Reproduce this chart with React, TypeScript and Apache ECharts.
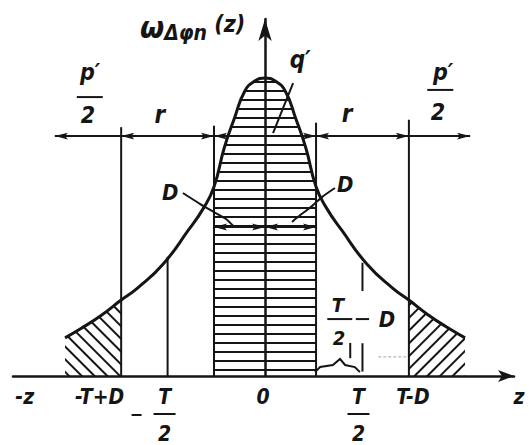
import React, { useEffect, useRef } from "react";
import * as echarts from "echarts";

// Density curve ω(z); z in units of D, height normalised to the peak.
const curveZ = [-3.92, -3.6, -3.2, -2.82, -2.5, -2.0, -1.5, -1.2, -1.0, -0.8, -0.6, -0.4, -0.2, 0, 0.2, 0.4, 0.6, 0.8, 1.0, 1.2, 1.5, 2.0, 2.5, 2.82, 3.2, 3.6, 3.92];
const curveH = [0.128, 0.16, 0.205, 0.255, 0.295, 0.375, 0.49, 0.565, 0.635, 0.765, 0.865, 0.955, 0.99, 1.0, 0.99, 0.955, 0.865, 0.765, 0.635, 0.565, 0.49, 0.375, 0.295, 0.255, 0.205, 0.16, 0.128];

const D = 1;
const T = 3.82;

// Labels under the z axis
const tickValues = [-T + D, -T / 2, 0, T / 2, T - D];
const tickLabels = ["-T+D", "-T/2", "0", "T/2", "T-D"];

// Vertical construction lines: position, bottom, top
const guideZ = [-T + D, -T / 2, -D, D, T / 2, T / 2, T - D];
const guideLow = [0, 0, 0, 0, 0.285, 0.015, 0];
const guideHigh = [0.835, 0.4, 0.84, 0.85, 0.38, 0.11, 0.86];

// Dimension line p'/2 | r | q' | r | p'/2
const spanLevel = 0.805;
const spanFrom = [-T + D, -T + D, -D, D, T - D];
const spanTo = [-4.12, -D, D, T - D, 4.02];
const spanBoth = [false, true, true, true, false];

// Inner D dimensions
const dLevel = 0.5;
const dFrom = [-D, 0];
const dTo = [0, D];

const pts = curveZ.map((z, i) => [z, curveH[i]]);
const eps = 1e-6;
const centerPts = pts.filter((p) => Math.abs(p[0]) <= D + eps);
const leftTail = pts.filter((p) => p[0] <= -T + D + eps);
const rightTail = pts.filter((p) => p[0] >= T - D - eps);

const INK = "#151515";
const FONT = "'DejaVu Sans Condensed', 'DejaVu Sans', sans-serif";
const WEIGHT = "bold";

type Ann = { text: string; z: number; h: number; size: number; align?: string };
const annotations: Ann[] = [
  { text: "q′", z: 0.69, h: 1.06, size: 24 },
  { text: "p′", z: -3.43, h: 1.02, size: 23 },
  { text: "2", z: -3.47, h: 0.876, size: 23 },
  { text: "p′", z: 3.49, h: 1.02, size: 23 },
  { text: "2", z: 3.39, h: 0.886, size: 23 },
  { text: "r", z: -2.06, h: 0.876, size: 24 },
  { text: "r", z: 1.61, h: 0.88, size: 24 },
  { text: "D", z: -1.86, h: 0.617, size: 22 },
  { text: "D", z: 1.57, h: 0.641, size: 22 },
  { text: "T", z: 1.43, h: 0.238, size: 20 },
  { text: "2", z: 1.45, h: 0.128, size: 20 },
  { text: "D", z: 2.39, h: 0.188, size: 22 },
  { text: "-z", z: -4.71, h: -0.07, size: 21 },
  { text: "z", z: 4.98, h: -0.07, size: 21 },
];

// Short straight strokes: fraction bars, minus sign, leaders, brace
const strokes: number[][][] = [
  [[-3.69, 0.936], [-3.18, 0.936]],
  [[3.18, 0.96], [3.69, 0.96]],
  [[1.22, 0.191], [1.71, 0.191]],
  [[1.78, 0.191], [2.04, 0.191]],
  [[0.55, 0.983], [0.157, 0.815]],
  [[-1.61, 0.614], [-1.27, 0.577], [-1.0, 0.55], [-0.765, 0.527], [-0.63, 0.505]],
  [[1.37, 0.631], [1.12, 0.601], [0.92, 0.57], [0.69, 0.54], [0.53, 0.517]],
  [[0.98, 0.013], [1.08, 0.03], [1.33, 0.037], [1.47, 0.057], [1.57, 0.037], [1.76, 0.03], [1.86, 0.013]],
  [[1.67, 0.06], [1.67, 0.111]],
];

function arrowHead(tip: number[], from: number[], len = 13, half = 3.4) {
  const dx = tip[0] - from[0];
  const dy = tip[1] - from[1];
  const l = Math.hypot(dx, dy) || 1;
  const ux = dx / l, uy = dy / l;
  const bx = tip[0] - ux * len, by = tip[1] - uy * len;
  return {
    type: "polygon",
    shape: { points: [tip, [bx - uy * half, by + ux * half], [tip[0] - ux * len * 0.8, tip[1] - uy * len * 0.8], [bx + uy * half, by - ux * half]] },
    style: { fill: INK },
  };
}

function hatch(rotation: number) {
  return {
    symbol: "rect",
    symbolSize: 1,
    dashArrayX: [1, 0],
    dashArrayY: [2, 7],
    rotation,
    color: INK,
    backgroundColor: "rgba(0,0,0,0)",
  };
}

function areaSeries(data: number[][], rotation: number) {
  return {
    type: "line",
    data,
    smooth: true,
    showSymbol: false,
    silent: true,
    lineStyle: { width: 0, decal: hatch(rotation) },
    itemStyle: { decal: hatch(rotation) },
    areaStyle: { color: "rgba(0,0,0,0)", opacity: 1 },
    z: 1,
  };
}

export default function App() {
  const ref = useRef<HTMLDivElement>(null);
  useEffect(() => {
    if (!ref.current) return;
    const chart = echarts.init(ref.current, undefined, { renderer: "svg" });
    const txt = { fill: INK, fontFamily: FONT, fontStyle: "italic", fontWeight: WEIGHT };
    chart.setOption({
      animation: false,
      backgroundColor: "#ffffff",
      grid: { left: 13, right: 15, top: 19, bottom: 69 },
      xAxis: {
        type: "value",
        min: -4.94,
        max: 4.88,
        axisLine: { show: true, onZero: false, symbol: ["none", "arrow"], symbolSize: [9, 16], lineStyle: { color: INK, width: 2.5 } },
        axisTick: { show: false },
        axisLabel: { show: false },
        splitLine: { show: false },
      },
      yAxis: {
        type: "value",
        min: 0,
        max: 1.198,
        axisLine: { show: true, onZero: true, symbol: ["none", "arrow"], symbolSize: [10, 22], lineStyle: { color: INK, width: 2.5 } },
        axisTick: { show: false },
        axisLabel: { show: false },
        splitLine: { show: false },
      },
      series: [
        areaSeries(centerPts, 0),
        areaSeries(leftTail, Math.PI / 4),
        areaSeries(rightTail, -Math.PI / 4),
        {
          type: "line",
          data: pts,
          smooth: true,
          showSymbol: false,
          silent: true,
          lineStyle: { color: INK, width: 3 },
          z: 3,
        },
        {
          // vertical construction lines
          type: "custom",
          silent: true,
          clip: false,
          z: 2,
          data: guideZ.map((z, i) => [z, guideLow[i], guideHigh[i]]),
          renderItem: (params: any, api: any) => {
            const z = api.value(0);
            const a = api.coord([z, api.value(1)]);
            const b = api.coord([z, api.value(2)]);
            return { type: "line", shape: { x1: a[0], y1: a[1], x2: b[0], y2: b[1] }, style: { stroke: INK, lineWidth: 2 } };
          },
        },
        {
          // dimension arrows
          type: "custom",
          silent: true,
          clip: false,
          z: 4,
          data: [
            ...spanFrom.map((f, i) => [f, spanTo[i], spanLevel, spanBoth[i] ? 1 : 0]),
            ...dFrom.map((f, i) => [f, dTo[i], dLevel, 1]),
          ],
          renderItem: (params: any, api: any) => {
            const lv = api.value(2);
            const a = api.coord([api.value(0), lv]);
            const b = api.coord([api.value(1), lv]);
            const children: any[] = [
              { type: "line", shape: { x1: a[0], y1: a[1], x2: b[0], y2: b[1] }, style: { stroke: INK, lineWidth: 2 } },
              arrowHead(b, a),
            ];
            if (api.value(3)) children.push(arrowHead(a, b));
            return { type: "group", children };
          },
        },
        {
          // leaders, fraction bars, brace
          type: "custom",
          silent: true,
          clip: false,
          z: 4,
          data: strokes.map((s, i) => [s[0][0], s[0][1], i]),
          renderItem: (params: any, api: any) => {
            const s = strokes[params.dataIndex];
            return {
              type: "polyline",
              shape: { points: s.map((p) => api.coord(p)), smooth: s.length > 2 && params.dataIndex < 7 ? 0.3 : 0 },
              style: { stroke: INK, lineWidth: 2, fill: "none" },
            };
          },
        },
        {
          // faint dashed mark beside T-D
          type: "custom",
          silent: true,
          clip: false,
          z: 2,
          data: [[2.22, 2.78, 0.064]],
          renderItem: (params: any, api: any) => {
            const a = api.coord([api.value(0), api.value(2)]);
            const b = api.coord([api.value(1), api.value(2)]);
            return { type: "line", shape: { x1: a[0], y1: a[1], x2: b[0], y2: b[1] }, style: { stroke: "#b8b8b8", lineWidth: 1.2, lineDash: [3, 2] } };
          },
        },
        {
          // free annotation texts
          type: "custom",
          silent: true,
          clip: false,
          z: 5,
          data: annotations.map((a) => [a.z, a.h]),
          renderItem: (params: any, api: any) => {
            const a = annotations[params.dataIndex];
            const p = api.coord([a.z, a.h]);
            return {
              type: "text",
              x: p[0],
              y: p[1],
              style: { ...txt, text: a.text, fontSize: a.size, align: a.align || "center", verticalAlign: "middle" },
            };
          },
        },
        {
          // axis title
          type: "custom",
          silent: true,
          clip: false,
          z: 5,
          data: [[-0.39, 1.171]],
          renderItem: (params: any, api: any) => {
            const p = api.coord([api.value(0), api.value(1)]);
            return {
              type: "text",
              x: p[0],
              y: p[1],
              style: {
                text: "{w|ω}{s|Δφn}{p| (z)}",
                align: "right",
                verticalAlign: "middle",
                fill: INK,
                rich: {
                  w: { ...txt, fontSize: 31 },
                  s: { ...txt, fontSize: 21, padding: [11, 0, 0, 0] },
                  p: { ...txt, fontSize: 23, padding: [0, 0, 6, 0] },
                },
              },
            };
          },
        },
        {
          // tick labels on z axis
          type: "custom",
          silent: true,
          clip: false,
          z: 5,
          data: tickValues.map((v) => [v, 0]),
          renderItem: (params: any, api: any) => {
            const i = params.dataIndex;
            const label = tickLabels[i];
            const p = api.coord([api.value(0), 0]);
            const base = { ...txt, fontSize: 21, verticalAlign: "middle" };
            if (label.includes("/")) {
              const neg = label.startsWith("-");
              const [num, den] = label.replace("-", "").split("/");
              const cx = p[0] - (neg ? 3 : 4);
              const children: any[] = [
                { type: "text", x: cx, y: p[1] + 21, style: { ...base, text: num, align: "center" } },
                { type: "line", shape: { x1: cx - 11, y1: p[1] + 38, x2: cx + 11, y2: p[1] + 38 }, style: { stroke: INK, lineWidth: 2 } },
                { type: "text", x: cx, y: p[1] + 58, style: { ...base, text: den, align: "center" } },
              ];
              if (neg) children.push({ type: "line", shape: { x1: cx - 33, y1: p[1] + 39, x2: cx - 23, y2: p[1] + 39 }, style: { stroke: INK, lineWidth: 2 } });
              return { type: "group", children };
            }
            const align = i === 0 ? "right" : "center";
            const dx = i === 0 ? 3 : i === 4 ? 4 : -2;
            return { type: "text", x: p[0] + dx, y: p[1] + 21, style: { ...base, text: label, align } };
          },
        },
      ],
    });
    return () => chart.dispose();
  }, []);
  return <div ref={ref} style={{ position: "fixed", left: 0, top: 0, width: 529, height: 445, background: "#fff" }} />;
}
